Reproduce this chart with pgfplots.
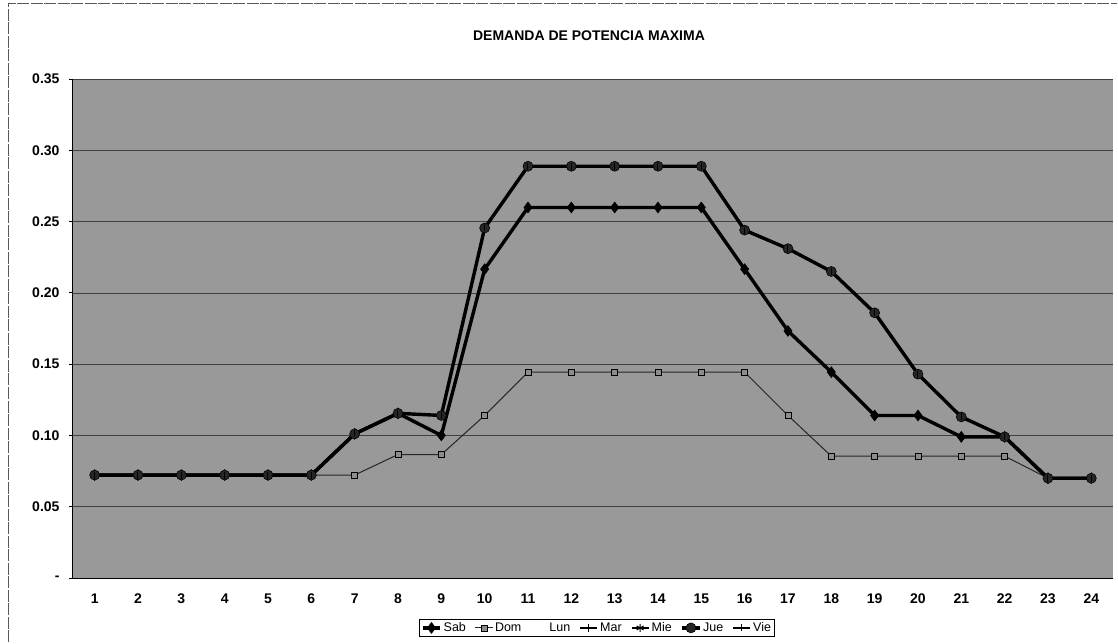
\documentclass[border=0pt]{standalone}
\usepackage{pgfplots}
\pgfplotsset{compat=1.18}
\usepackage{fontspec}
\setmainfont{Liberation Sans}
\begin{document}
\begin{tikzpicture}[x=1pt,y=1pt]
\useasboundingbox (0,0) rectangle (1118,643);
\draw[black!65, line width=0.7pt, dash pattern=on 12pt off 1.5pt] (8,1) -- (8,640) -- (1117,640);
\node[font=\fontsize{14}{16}\selectfont\bfseries] at (589,607) {DEMANDA DE POTENCIA MAXIMA};
\begin{axis}[
  at={(73pt,65pt)}, anchor=south west,
  scale only axis, width=1040pt, height=499pt,
  xmin=0.5, xmax=24.5, ymin=0, ymax=0.35,
  xtick={1,...,24},
  major x tick style={draw=none},
  extra x ticks={0.5,1.5,...,24.5},
  extra x tick labels={},
  extra x tick style={tick style={draw=black}, major tick length=5pt, tickwidth=0.8pt, grid=none},
  ytick={0,0.05,0.10,0.15,0.20,0.25,0.30,0.35},
  yticklabels={-,0.05,0.10,0.15,0.20,0.25,0.30,0.35},
  tick align=outside,
  ytick style={black, line width=0.8pt},
  major tick length=4pt,
  ymajorgrids,
  grid style={black!75, line width=0.7pt},
  axis line style={black, line width=1pt},
  axis x line*=bottom, axis y line*=left,
  axis background/.style={fill=black!40},
  ticklabel style={font=\fontsize{14}{16}\selectfont\bfseries},
  /pgf/number format/assume math mode=true,
  xticklabel style={yshift=-8pt},
  yticklabel style={xshift=-6pt},
  legend columns=7,
  legend style={at={(0.504,-0.1)}, anchor=center, draw=black, line width=0.6pt,
    font=\fontsize{12.5}{14}\selectfont, inner sep=1.5pt,
    /tikz/every even column/.append style={column sep=7pt}},
  legend cell align=left,
]
% Sab
\addplot[black, line width=3.4pt, mark=diamond*, mark size=5.5pt, mark options={line width=0.5pt}] coordinates {
(1,0.0722)(2,0.0722)(3,0.0722)(4,0.0722)(5,0.0722)(6,0.0722)(7,0.1011)(8,0.1155)(9,0.1000)(10,0.2166)
(11,0.2599)(12,0.2599)(13,0.2599)(14,0.2599)(15,0.2599)(16,0.2166)(17,0.1733)(18,0.1444)(19,0.1140)(20,0.1140)
(21,0.0990)(22,0.0990)(23,0.0700)(24,0.0700)};
\addlegendentry{Sab}
% Dom
\addplot[black!85, line width=1pt, mark=square*, mark size=3pt, mark options={fill=black!45, draw=black, line width=0.8pt}] coordinates {
(1,0.0722)(2,0.0722)(3,0.0722)(4,0.0722)(5,0.0722)(6,0.0722)(7,0.0722)(8,0.0866)(9,0.0866)(10,0.1140)
(11,0.1444)(12,0.1444)(13,0.1444)(14,0.1444)(15,0.1444)(16,0.1444)(17,0.1140)(18,0.0855)(19,0.0855)(20,0.0855)
(21,0.0855)(22,0.0855)(23,0.0700)(24,0.0700)};
\addlegendentry{Dom}
% Lun (not drawn)
\addplot[draw=none, mark=none, legend image code/.code={\path (0cm,0cm) (0.6cm,0cm);}] coordinates {
(1,0.0722)(2,0.0722)(3,0.0722)(4,0.0722)(5,0.0722)(6,0.0722)(7,0.1011)(8,0.1155)(9,0.1140)(10,0.2455)
(11,0.2888)(12,0.2888)(13,0.2888)(14,0.2888)(15,0.2888)(16,0.2440)(17,0.2310)(18,0.2150)(19,0.1860)(20,0.1430)
(21,0.1130)(22,0.0990)(23,0.0700)(24,0.0700)};
\addlegendentry{Lun}
% Mar
\addplot[black, line width=1.8pt, mark=+, mark size=4pt, mark options={line width=1pt}] coordinates {
(1,0.0722)(2,0.0722)(3,0.0722)(4,0.0722)(5,0.0722)(6,0.0722)(7,0.1011)(8,0.1155)(9,0.1140)(10,0.2455)
(11,0.2888)(12,0.2888)(13,0.2888)(14,0.2888)(15,0.2888)(16,0.2440)(17,0.2310)(18,0.2150)(19,0.1860)(20,0.1430)
(21,0.1130)(22,0.0990)(23,0.0700)(24,0.0700)};
\addlegendentry{Mar}
% Mie
\addplot[black, line width=1.8pt, mark=asterisk, mark size=4pt, mark options={line width=1pt}] coordinates {
(1,0.0722)(2,0.0722)(3,0.0722)(4,0.0722)(5,0.0722)(6,0.0722)(7,0.1011)(8,0.1155)(9,0.1140)(10,0.2455)
(11,0.2888)(12,0.2888)(13,0.2888)(14,0.2888)(15,0.2888)(16,0.2440)(17,0.2310)(18,0.2150)(19,0.1860)(20,0.1430)
(21,0.1130)(22,0.0990)(23,0.0700)(24,0.0700)};
\addlegendentry{Mie}
% Jue
\addplot[black, line width=3.4pt, mark=*, mark size=5pt, mark options={draw=black, fill=black!85, line width=0.6pt}] coordinates {
(1,0.0722)(2,0.0722)(3,0.0722)(4,0.0722)(5,0.0722)(6,0.0722)(7,0.1011)(8,0.1155)(9,0.1140)(10,0.2455)
(11,0.2888)(12,0.2888)(13,0.2888)(14,0.2888)(15,0.2888)(16,0.2440)(17,0.2310)(18,0.2150)(19,0.1860)(20,0.1430)
(21,0.1130)(22,0.0990)(23,0.0700)(24,0.0700)};
\addlegendentry{Jue}
% Vie
\addplot[black, line width=1.8pt, mark=|, mark size=3.5pt, mark options={line width=1pt}] coordinates {
(1,0.0722)(2,0.0722)(3,0.0722)(4,0.0722)(5,0.0722)(6,0.0722)(7,0.1011)(8,0.1155)(9,0.1140)(10,0.2455)
(11,0.2888)(12,0.2888)(13,0.2888)(14,0.2888)(15,0.2888)(16,0.2440)(17,0.2310)(18,0.2150)(19,0.1860)(20,0.1430)
(21,0.1130)(22,0.0990)(23,0.0700)(24,0.0700)};
\addlegendentry{Vie}
\end{axis}
\end{tikzpicture}
\end{document}
